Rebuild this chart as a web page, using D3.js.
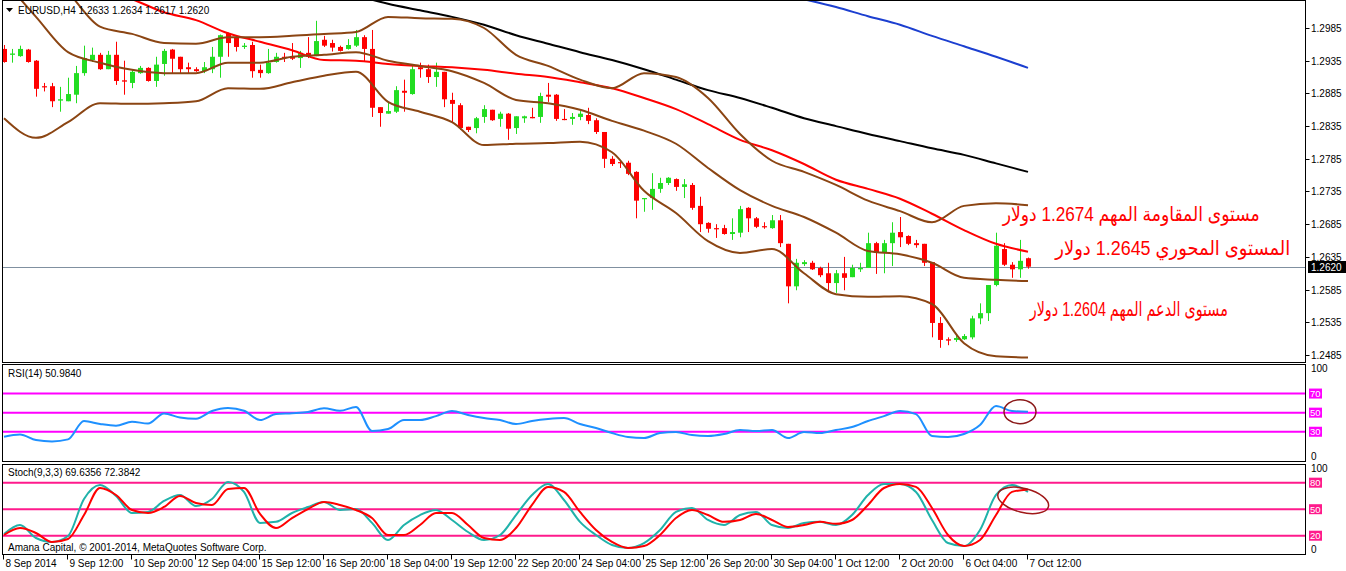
<!DOCTYPE html>
<html><head><meta charset="utf-8">
<script src="https://cdn.jsdelivr.net/npm/d3@7"></script>
<style>body{margin:0;background:#fff}svg{display:block}text{font-family:"Liberation Sans",Arial,sans-serif}</style>
</head><body><svg id="c" width="1346" height="571"></svg>
<script>
// ---------- DATA ----------
const symbolTitle = "EURUSD,H4 1.2633 1.2634 1.2617 1.2620";
const rsiTitle = "RSI(14) 50.9840";
const stochTitle = "Stoch(9,3,3) 69.6356 72.3842";
const copyright = "Amana Capital, © 2001-2014, MetaQuotes Software Corp.";
const lastPrice = 1.2620;
const xLabels = ["8 Sep 2014","9 Sep 12:00","10 Sep 20:00","12 Sep 04:00","15 Sep 12:00","16 Sep 20:00","18 Sep 04:00","19 Sep 12:00","22 Sep 20:00","24 Sep 04:00","25 Sep 12:00","26 Sep 20:00","30 Sep 04:00","1 Oct 12:00","2 Oct 20:00","6 Oct 04:00","7 Oct 12:00"];
const xLabelBars = [0,8,16,24,32,40,48,56,64,72,80,88,96,104,112,120,128];
const priceTicks = [1.2985,1.2935,1.2885,1.2835,1.2785,1.2735,1.2685,1.2635,1.2585,1.2535,1.2485];
const rsiLevels = [70,50,30];
const stochLevels = [80,50,20];

const open  = [1.2953,1.2944,1.2942,1.2952,1.2935,1.2896,1.2896,1.2874,1.2873,1.2883,1.2916,1.2936,1.2944,1.2922,1.2944,1.2905,1.2901,1.2916,1.2924,1.2904,1.2930,1.2952,1.2941,1.2925,1.2922,1.2919,1.2922,1.2941,1.2977,1.2971,1.2956,1.2959,1.2921,1.2916,1.2933,1.2941,1.2942,1.2939,1.2947,1.2942,1.2967,1.2962,1.2956,1.2953,1.2958,1.2971,1.2953,1.2864,1.2854,1.2857,1.2889,1.2884,1.2925,1.2922,1.2910,1.2918,1.2875,1.2867,1.2834,1.2832,1.2849,1.2860,1.2846,1.2854,1.2832,1.2847,1.2849,1.2849,1.2883,1.2883,1.2846,1.2846,1.2849,1.2852,1.2844,1.2826,1.2785,1.2780,1.2779,1.2765,1.2724,1.2725,1.2739,1.2748,1.2754,1.2742,1.2745,1.2713,1.2687,1.2679,1.2679,1.2670,1.2672,1.2710,1.2694,1.2682,1.2679,1.2691,1.2655,1.2590,1.2624,1.2626,1.2618,1.2610,1.2595,1.2610,1.2604,1.2616,1.2618,1.2656,1.2641,1.2656,1.2673,1.2667,1.2656,1.2655,1.2627,1.2534,1.2509,1.2508,1.2509,1.2512,1.2541,1.2549,1.2592,1.2647,1.2623,1.2616,1.2633];
const high  = [1.2959,1.2953,1.2958,1.2953,1.2936,1.2901,1.2901,1.2895,1.2909,1.2927,1.2958,1.2955,1.2947,1.2950,1.2964,1.2935,1.2922,1.2927,1.2925,1.2941,1.2953,1.2953,1.2941,1.2932,1.2925,1.2933,1.2956,1.2975,1.2978,1.2974,1.2962,1.2964,1.2929,1.2953,1.2947,1.2947,1.2962,1.2950,1.2971,1.2996,1.2973,1.2967,1.2958,1.2968,1.2982,1.2974,1.2982,1.2864,1.2872,1.2896,1.2906,1.2930,1.2932,1.2929,1.2932,1.2918,1.2886,1.2870,1.2834,1.2849,1.2867,1.2860,1.2857,1.2855,1.2850,1.2851,1.2863,1.2886,1.2901,1.2884,1.2861,1.2855,1.2858,1.2863,1.2847,1.2826,1.2789,1.2783,1.2782,1.2766,1.2725,1.2763,1.2756,1.2757,1.2755,1.2754,1.2748,1.2727,1.2688,1.2685,1.2684,1.2694,1.2713,1.2711,1.2696,1.2688,1.2699,1.2699,1.2655,1.2632,1.2630,1.2629,1.2620,1.2626,1.2615,1.2635,1.2623,1.2626,1.2672,1.2658,1.2661,1.2688,1.2696,1.2668,1.2661,1.2655,1.2627,1.2543,1.2512,1.2514,1.2517,1.2545,1.2564,1.2592,1.2672,1.2656,1.2627,1.2661,1.2634];
const low   = [1.2932,1.2932,1.2941,1.2932,1.2880,1.2888,1.2864,1.2857,1.2873,1.2870,1.2912,1.2933,1.2921,1.2922,1.2898,1.2883,1.2893,1.2915,1.2903,1.2895,1.2912,1.2916,1.2916,1.2916,1.2918,1.2916,1.2916,1.2909,1.2941,1.2949,1.2953,1.2909,1.2909,1.2915,1.2932,1.2933,1.2936,1.2924,1.2939,1.2942,1.2956,1.2949,1.2949,1.2952,1.2956,1.2933,1.2849,1.2834,1.2854,1.2855,1.2857,1.2883,1.2909,1.2901,1.2895,1.2864,1.2841,1.2829,1.2826,1.2824,1.2840,1.2843,1.2834,1.2814,1.2823,1.2840,1.2847,1.2840,1.2872,1.2843,1.2844,1.2837,1.2844,1.2838,1.2823,1.2771,1.2774,1.2771,1.2760,1.2694,1.2704,1.2707,1.2733,1.2745,1.2736,1.2725,1.2707,1.2673,1.2672,1.2664,1.2669,1.2661,1.2665,1.2673,1.2679,1.2678,1.2678,1.2650,1.2564,1.2584,1.2621,1.2615,1.2604,1.2581,1.2580,1.2584,1.2604,1.2612,1.2618,1.2609,1.2610,1.2621,1.2650,1.2653,1.2649,1.2621,1.2512,1.2496,1.2500,1.2505,1.2508,1.2509,1.2532,1.2537,1.2590,1.2621,1.2603,1.2603,1.2617];
const close = [1.2933,1.2946,1.2953,1.2933,1.2892,1.2895,1.2873,1.2876,1.2884,1.2916,1.2939,1.2944,1.2922,1.2944,1.2904,1.2903,1.2918,1.2924,1.2904,1.2929,1.2950,1.2938,1.2922,1.2922,1.2919,1.2925,1.2941,1.2974,1.2962,1.2956,1.2958,1.2919,1.2916,1.2932,1.2941,1.2939,1.2938,1.2947,1.2941,1.2965,1.2958,1.2955,1.2950,1.2959,1.2971,1.2953,1.2863,1.2855,1.2858,1.2890,1.2886,1.2922,1.2922,1.2910,1.2918,1.2876,1.2869,1.2832,1.2829,1.2847,1.2861,1.2844,1.2854,1.2831,1.2850,1.2850,1.2847,1.2881,1.2880,1.2846,1.2845,1.2849,1.2854,1.2843,1.2826,1.2785,1.2777,1.2779,1.2762,1.2721,1.2725,1.2739,1.2748,1.2756,1.2742,1.2746,1.2710,1.2685,1.2678,1.2678,1.2670,1.2673,1.2708,1.2694,1.2681,1.2681,1.2691,1.2656,1.2590,1.2626,1.2627,1.2616,1.2607,1.2595,1.2610,1.2603,1.2618,1.2618,1.2656,1.2641,1.2656,1.2672,1.2665,1.2655,1.2653,1.2626,1.2534,1.2508,1.2507,1.2511,1.2514,1.2541,1.2549,1.2592,1.2652,1.2623,1.2616,1.2629,1.2620];

// indicator lines, read every 4 bars (bars 0,4,...,128)
const bandBars = [0,4,8,12,16,20,24,28,32,36,40,44,48,52,56,60,64,68,72,76,80,84,88,92,96,100,104,108,112,116,120,124,128];
const bbUpper = [1.3120,1.3089,1.3040,1.2987,1.2976,1.2962,1.2961,1.2971,1.2971,1.2973,1.2976,1.2979,1.3002,1.3000,1.2999,1.2985,1.2944,1.2927,1.2906,1.2893,1.2916,1.2910,1.2878,1.2823,1.2782,1.2765,1.2745,1.2721,1.2705,1.2688,1.2713,1.2717,1.2714];
const bbMiddle = [1.3058,1.3002,1.2948,1.2932,1.2921,1.2916,1.2916,1.2932,1.2932,1.2941,1.2944,1.2948,1.2935,1.2927,1.2919,1.2901,1.2875,1.2870,1.2860,1.2843,1.2828,1.2808,1.2771,1.2737,1.2713,1.2696,1.2672,1.2644,1.2639,1.2626,1.2603,1.2600,1.2598];
const bbLower = [1.2847,1.2817,1.2841,1.2870,1.2869,1.2870,1.2873,1.2893,1.2892,1.2902,1.2912,1.2918,1.2872,1.2857,1.2841,1.2806,1.2808,1.2809,1.2811,1.2795,1.2736,1.2702,1.2659,1.2641,1.2647,1.2610,1.2578,1.2574,1.2575,1.2563,1.2503,1.2483,1.2481];
const maRed = [1.3089,1.3074,1.3058,1.3043,1.3029,1.3009,1.2997,1.2977,1.2964,1.2951,1.2936,1.2935,1.2930,1.2927,1.2925,1.2921,1.2915,1.2910,1.2902,1.2893,1.2878,1.2861,1.2838,1.2814,1.2798,1.2777,1.2753,1.2739,1.2724,1.2701,1.2676,1.2655,1.2643];
const maBlack = [null,null,null,null,null,null,null,null,null,null,null,1.3035,1.3022,1.3012,1.3002,1.2990,1.2974,1.2961,1.2948,1.2936,1.2922,1.2906,1.2890,1.2878,1.2863,1.2847,1.2835,1.2823,1.2812,1.2801,1.2791,1.2778,1.2765];
const maBlue = [null,null,null,null,null,null,null,null,null,null,null,null,null,null,null,null,null,null,null,null,null,null,null,null,null,1.3029,1.3017,1.3003,1.2990,1.2973,1.2957,1.2941,1.2924];

// oscillators, read every 2 bars (bars 0,2,...,128)
const oscBars = d3.range(0, 129, 2);
const rsi = [24.8,27.1,21.3,19.9,22.0,41.2,38.1,36.3,40.5,38.6,49.1,44.9,43.6,51.7,54.8,52.0,42.3,48.5,49.3,50.6,54.5,52.0,56.0,30.7,32.8,42.3,42.3,46.4,51.7,47.5,44.3,42.3,38.1,41.2,43.3,44.3,38.1,33.9,28.6,24.5,23.4,28.6,29.7,26.5,25.5,27.6,31.8,30.7,31.8,23.4,29.7,28.6,31.8,34.9,41.2,46.4,51.7,48.5,25.5,24.5,27.6,37.0,56.9,51.7,50.98];
const stochMain = [21.9,32.1,17.4,12.9,19.7,61.6,77.4,65.0,45.7,46.9,59.3,66.1,53.6,61.6,80.9,69.6,34.5,35.7,45.7,52.5,58.2,49.1,50.2,34.5,15.1,32.1,43.4,49.1,37.8,24.2,15.1,20.8,43.4,66.1,78.5,60.4,35.7,20.8,9.5,6.1,11.7,26.5,46.9,51.4,37.8,32.1,43.4,46.9,32.1,28.7,34.5,35.7,32.1,43.4,66.1,78.5,78.5,69.5,37.8,11.7,8.3,26.5,66.1,77.4,69.64];
const stochSignal = [20.8,28.7,23.1,12.9,16.3,43.4,74.0,66.1,49.1,45.7,52.5,65.0,57.1,54.8,72.9,74.0,44.6,28.7,40.0,50.2,58.2,54.8,49.1,40.0,20.8,20.8,32.1,45.7,45.7,32.1,17.4,15.1,28.7,54.8,75.2,69.6,46.9,26.5,12.9,6.1,8.3,20.8,40.0,49.1,43.4,35.7,37.8,44.6,37.8,29.9,32.1,35.7,33.4,37.8,54.8,74.0,78.5,75.2,51.4,20.8,8.3,15.1,43.4,69.6,72.38];

// text annotations (label anchor: bar position and price level of baseline)
const noteTexts = ["مستوى المقاومة المهم 1.2674 دولار", "المستوى المحوري 1.2645 دولار", "مستوى الدعم المهم 1.2604 دولار"];
const noteBars = [140.9, 146.1, 140.6];
const notePrices = [1.2690, 1.2638, 1.2545];
const noteWidths = [257, 235, 198];

// ---------- DRAW ----------
const svg = d3.select('#c');
const L = 2.5, R = 1305.5;
const P = {main:[0.5,362.5], rsi:[364.5,461.5], sto:[464.5,554.5]};
const x = d3.scaleLinear().domain([0,128]).range([4,1028]);
const yP = d3.scaleLinear().domain([1.2485,1.2985]).range([355,28]);
const yR = d3.scaleLinear().domain([0,100]).range([460.4,364.9]);
const yS = d3.scaleLinear().domain([0,100]).range([553.4,465]);

const defs = svg.append('defs');
Object.entries(P).forEach(([k,[t,b]])=>{
  defs.append('clipPath').attr('id','clip-'+k).append('rect')
    .attr('x',L).attr('y',t).attr('width',R-L).attr('height',b-t);
});

const gMain = svg.append('g').attr('clip-path','url(#clip-main)');
gMain.append('line').attr('x1',L).attr('x2',R).attr('y1',Math.round(yP(lastPrice))+0.5).attr('y2',Math.round(yP(lastPrice))+0.5)
  .attr('stroke','#8090a0').attr('stroke-width',1);

const GREEN = '#22dd22', RED = '#ff0000';
const cg = gMain.append('g');
close.forEach((c,i)=>{
  const o=open[i], col = c>=o ? GREEN : RED;
  const xc = Math.round(x(i));
  cg.append('line').attr('x1',xc+0.5).attr('x2',xc+0.5).attr('y1',yP(high[i])).attr('y2',yP(low[i]))
    .attr('stroke',col).attr('stroke-width',1);
  const yt = yP(Math.max(o,c)), yb = yP(Math.min(o,c));
  cg.append('rect').attr('x',xc-2).attr('width',5).attr('y',yt).attr('height',Math.max(1.2,yb-yt)).attr('fill',col);
});

function drawLine(g, bars, vals, ys, color, w){
  const pts = bars.map((b,i)=>[b, vals[i]]);
  g.append('path').datum(pts)
    .attr('d', d3.line().defined(d=>d[1]!=null).x(d=>x(d[0])).y(d=>ys(d[1])).curve(d3.curveMonotoneX))
    .attr('fill','none').attr('stroke',color).attr('stroke-width',w).attr('stroke-linejoin','round');
}
drawLine(gMain, bandBars, maBlue, yP, '#1c3fd0', 2);
drawLine(gMain, bandBars, maBlack, yP, '#000000', 2);
drawLine(gMain, bandBars, maRed, yP, '#ff0000', 2);
drawLine(gMain, bandBars, bbUpper, yP, '#8b4513', 2);
drawLine(gMain, bandBars, bbMiddle, yP, '#8b4513', 2);
drawLine(gMain, bandBars, bbLower, yP, '#8b4513', 2);

noteTexts.forEach((t,i)=>{
  gMain.append('text').attr('x',x(noteBars[i])).attr('y',yP(notePrices[i])).attr('text-anchor','middle')
    .attr('direction','rtl').attr('fill','#ff0000').attr('font-size',20)
    .attr('textLength',noteWidths[i]).attr('lengthAdjust','spacingAndGlyphs')
    .style('font-family','"Liberation Sans","DejaVu Sans",sans-serif').text(t);
});

svg.append('path').attr('d','M6,8 L13,8 L9.5,12 Z').attr('fill','#000');
svg.append('text').attr('x',18).attr('y',14).attr('font-size',10).attr('fill','#000').text(symbolTitle);

// RSI
const gR = svg.append('g').attr('clip-path','url(#clip-rsi)');
rsiLevels.forEach(v=>gR.append('line').attr('x1',L).attr('x2',R).attr('y1',yR(v)).attr('y2',yR(v)).attr('stroke','#ff00ff').attr('stroke-width',2));
drawLine(gR, oscBars, rsi, yR, '#1e90ff', 2);
gR.append('ellipse').attr('cx',x(127)).attr('cy',yR(51)).attr('rx',16).attr('ry',12).attr('fill','none').attr('stroke','#8b1a1a').attr('stroke-width',1.5);
svg.append('text').attr('x',8).attr('y',377).attr('font-size',10).text(rsiTitle);

// Stoch
const gS = svg.append('g').attr('clip-path','url(#clip-sto)');
stochLevels.forEach(v=>gS.append('line').attr('x1',L).attr('x2',R).attr('y1',yS(v)).attr('y2',yS(v)).attr('stroke','#ff1a8c').attr('stroke-width',2));
drawLine(gS, oscBars, stochMain, yS, '#20b2aa', 2);
drawLine(gS, oscBars, stochSignal, yS, '#ff0000', 2);
gS.append('ellipse').attr('cx',x(127.4)).attr('cy',yS(60)).attr('rx',26).attr('ry',12).attr('transform',`rotate(14 ${x(127.4)} ${yS(60)})`).attr('fill','none').attr('stroke','#a01818').attr('stroke-width',1.5);
svg.append('text').attr('x',8).attr('y',476).attr('font-size',10).text(stochTitle);
svg.append('text').attr('x',8).attr('y',551).attr('font-size',10).text(copyright);

Object.values(P).forEach(([t,b])=>{
  svg.append('rect').attr('x',L).attr('y',t).attr('width',R-L).attr('height',b-t).attr('fill','none').attr('stroke','#000').attr('stroke-width',1);
});

priceTicks.forEach(v=>{
  const yy = Math.round(yP(v))+0.5;
  svg.append('line').attr('x1',R).attr('x2',R+4).attr('y1',yy).attr('y2',yy).attr('stroke','#000');
  svg.append('text').attr('x',1311).attr('y',yy+3.5).attr('font-size',10).text(v.toFixed(4));
});
const yl = Math.round(yP(lastPrice));
svg.append('rect').attr('x',1308).attr('y',yl-6).attr('width',38).attr('height',12).attr('fill','#000');
svg.append('text').attr('x',1311).attr('y',yl+4).attr('font-size',10).attr('fill','#fff').text(lastPrice.toFixed(4));

function levelAxis(scale, levels, color){
  [100,0].forEach(v=>{
    svg.append('text').attr('x',1311).attr('y',scale(v)+(v===100?7:0)).attr('font-size',10).text(v);
  });
  levels.forEach(v=>{
    const yy=scale(v);
    svg.append('rect').attr('x',1309).attr('y',yy-5).attr('width',13).attr('height',10).attr('fill',color);
    svg.append('text').attr('x',1310).attr('y',yy+3.5).attr('font-size',9.5).attr('fill','#fff').text(v);
  });
}
levelAxis(yR, rsiLevels, '#ff00ff');
levelAxis(yS, stochLevels, '#ff1a8c');

xLabelBars.forEach((b,i)=>{
  const xx = Math.round(x(b))-0.5;
  svg.append('line').attr('x1',xx).attr('x2',xx).attr('y1',P.sto[1]).attr('y2',P.sto[1]+5).attr('stroke','#000');
  svg.append('text').attr('x',xx+2).attr('y',567).attr('font-size',10).text(xLabels[i]);
});
</script></body></html>
